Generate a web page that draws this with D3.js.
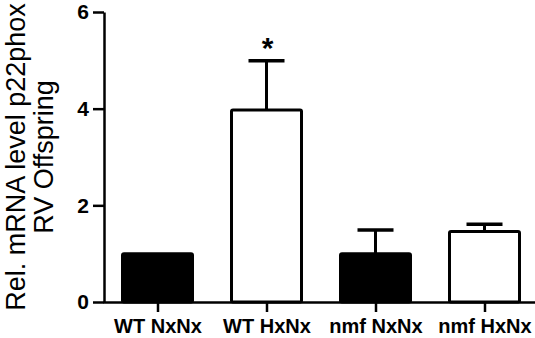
<!DOCTYPE html>
<html lang="en">
<head>
    <meta charset="UTF-8">
    <title>p22phox RV Offspring</title>
    <script src="https://d3js.org/d3.v7.min.js"></script>
    <style>
        body {
            margin: 0;
            background-color: #ffffff;
            font-family: Arial, "Liberation Sans", sans-serif;
        }
        .chart text {
            fill: #000000;
        }
    </style>
</head>
<body>
    <svg class="chart" width="535" height="338"></svg>
    <script>
        const groups = ['WT NxNx', 'WT HxNx', 'nmf NxNx', 'nmf HxNx'];
        const means = [1.0, 3.97, 1.0, 1.46];
        const errors = [0.0, 1.02, 0.49, 0.15];
        const fills = ['#000000', '#ffffff', '#000000', '#ffffff'];
        const yTicks = [0, 2, 4, 6];
        const stars = ['', '*', '', ''];

        const svg = d3.select('.chart');

        const x = d3.scalePoint()
            .domain(groups)
            .range([103, 539])
            .padding(0.5);

        const y = d3.scaleLinear()
            .domain([0, 6])
            .range([302, 12]);

        const barWidth = 73;
        const capWidth = 36;

        // error bars first, so the bar outline covers the stem bottom
        const err = svg.append('g');
        groups.forEach((g, i) => {
            if (errors[i] <= 0) return;
            err.append('line')
                .attr('x1', x(g)).attr('x2', x(g))
                .attr('y1', y(means[i])).attr('y2', y(means[i] + errors[i]))
                .attr('stroke', '#000').attr('stroke-width', 3);
            err.append('line')
                .attr('x1', x(g) - capWidth / 2).attr('x2', x(g) + capWidth / 2)
                .attr('y1', y(means[i] + errors[i])).attr('y2', y(means[i] + errors[i]))
                .attr('stroke', '#000').attr('stroke-width', 3.5);
        });

        svg.append('g').selectAll('rect')
            .data(groups)
            .join('rect')
            .attr('x', d => x(d) - barWidth / 2 + 1.5)
            .attr('width', barWidth - 3)
            .attr('y', (d, i) => y(means[i]))
            .attr('height', (d, i) => y(0) - y(means[i]))
            .attr('rx', 1.5)
            .attr('fill', (d, i) => fills[i])
            .attr('stroke', '#000')
            .attr('stroke-width', 3);

        // significance marker
        svg.append('g').selectAll('text')
            .data(groups)
            .join('text')
            .attr('x', d => x(d) + 1)
            .attr('y', (d, i) => y(means[i] + errors[i]) - 3)
            .attr('text-anchor', 'middle')
            .style('font-size', '30px')
            .style('font-weight', 'bold')
            .text((d, i) => stars[i]);

        // y axis
        const yAxis = svg.append('g')
            .attr('transform', 'translate(104,0)')
            .call(d3.axisLeft(y).tickValues(yTicks).tickFormat(d3.format('d'))
                .tickSize(11).tickSizeOuter(0).tickPadding(4));
        yAxis.select('.domain').attr('stroke-width', 2.5);
        yAxis.selectAll('.tick line').attr('stroke-width', 2.5);
        yAxis.selectAll('.tick text')
            .style('font-size', '21px')
            .style('font-weight', 'bold')
            .style('font-family', 'Arial, "Liberation Sans", sans-serif');

        // x axis
        const xAxis = svg.append('g')
            .attr('transform', 'translate(0,302)')
            .call(d3.axisBottom(x).tickSize(10).tickSizeOuter(0).tickPadding(7));
        xAxis.select('.domain').attr('stroke-width', 2.5);
        xAxis.selectAll('.tick line').attr('stroke-width', 2.5);
        xAxis.selectAll('.tick text')
            .style('font-size', '20px')
            .style('font-weight', 'bold')
            .style('font-family', 'Arial, "Liberation Sans", sans-serif');

        // y axis title, two lines
        const titleLines = ['Rel. mRNA level p22phox', 'RV Offspring'];
        svg.append('g').selectAll('text')
            .data(titleLines)
            .join('text')
            .attr('transform', (d, i) => `translate(${25 + i * 28},157) rotate(-90)`)
            .attr('text-anchor', 'middle')
            .style('font-size', '27px')
            .text(d => d);
    </script>
</body>
</html>
